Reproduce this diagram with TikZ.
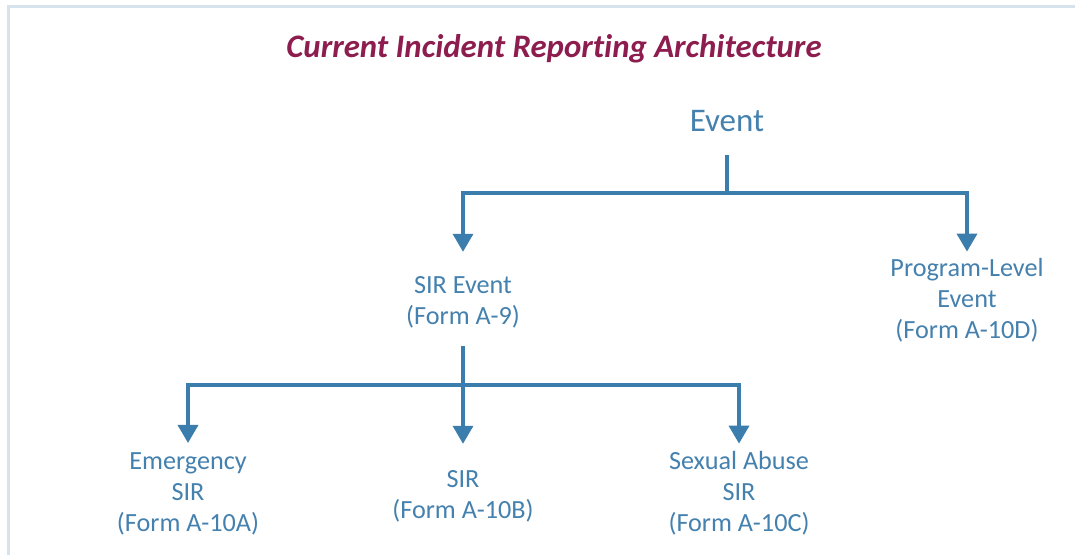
\documentclass[tikz,border=0pt]{standalone}
\usepackage{fontspec}
\setmainfont[Ligatures=NoCommon]{Carlito}
\usetikzlibrary{arrows.meta}
\definecolor{txtblue}{HTML}{4581AE}
\definecolor{arrblue}{HTML}{3B7DAD}
\definecolor{titlered}{HTML}{8C1D4E}
\definecolor{framec}{HTML}{D6E3EC}
\tikzset{
  lbl/.style={inner sep=0pt, text=txtblue, align=center, anchor=base,
    font=\fontsize{26.2}{31}\selectfont},
  conn/.style={draw=arrblue, line width=3.5pt},
  arr/.style={conn, -{Triangle[width=20pt,length=18pt]}},
}
\begin{document}
\begin{tikzpicture}[x=1pt,y=-1pt]
\useasboundingbox (0,0) rectangle (1075,554);
\fill[white] (0,0) rectangle (1075,554);
\draw[framec, line width=3pt] (8,560) -- (8,6) -- (1080,6);
\node[inner sep=0pt, anchor=base, text=titlered, font=\fontsize{32.8}{38}\selectfont\bfseries\itshape] (title) at (554,57) {Current Incident Reporting Architecture};
\node[lbl, font=\fontsize{33}{38}\selectfont] (ev) at (727,131) {Event};
\node[lbl] (sirev) at (463,324) {SIR Event\\(Form A-9)};
\node[lbl] (prog) at (967,338) {Program-Level\\Event\\(Form A-10D)};
\node[lbl] (emer) at (188,531) {Emergency\\SIR\\(Form A-10A)};
\node[lbl] (sirb) at (463,518) {SIR\\(Form A-10B)};
\node[lbl] (sexab) at (739,531) {Sexual Abuse\\SIR\\(Form A-10C)};
\coordinate (j1) at (727,193);
\coordinate (j2) at (463,385);
\draw[conn, shorten <=24pt] (ev.south) -- (j1);
\draw[arr, shorten >=24pt] (j1) -| (sirev.north);
\draw[arr, shorten >=6pt] (j1) -| (prog.north);
\draw[conn, shorten <=18pt] (sirev.south) -- (j2);
\draw[arr, shorten >=9pt] (j2) -| (emer.north);
\draw[arr, shorten >=26pt] (j2) -- (sirb.north);
\draw[arr, shorten >=7pt] (j2) -| (sexab.north);
\end{tikzpicture}
\end{document}
